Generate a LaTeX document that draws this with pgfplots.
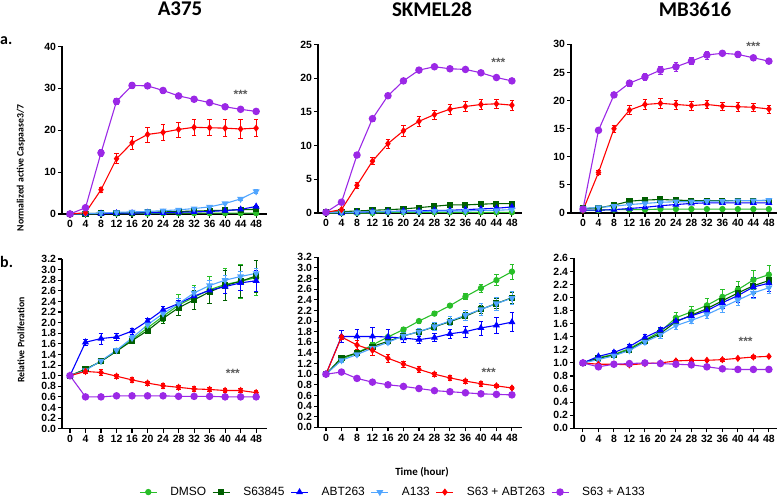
\documentclass[border=0pt]{standalone}
\usepackage{fontspec}
\setmainfont{Liberation Sans}
\newfontfamily\carlito{Carlito}
\usepackage{pgfplots}
\usepackage{pgfplotstable}
\pgfplotsset{compat=1.18}

\definecolor{dmsoC}{RGB}{40,190,40}
\definecolor{s63C}{RGB}{0,95,0}
\definecolor{abtC}{RGB}{0,0,255}
\definecolor{a133C}{RGB}{80,165,255}
\definecolor{sabtC}{RGB}{255,0,0}
\definecolor{sa133C}{RGB}{155,40,230}
\definecolor{starC}{RGB}{90,90,90}

% columns: t dmso dmsoe s63 s63e abt abte a133 a133e sabt sabte sa133 sa133e
\pgfplotstableread{
t dmso dmsoe s63 s63e abt abte a133 a133e sabt sabte sa133 sa133e
0 0.0 0.05 0.0 0.05 0.0 0.05 0.0 0.05 0.0 0.1 0.0 0.2
4 0.0 0.05 0.1 0.05 0.1 0.05 0.1 0.05 0.3 0.1 1.5 0.3
8 0.1 0.05 0.2 0.05 0.1 0.05 0.2 0.1 5.8 0.6 14.6 0.8
12 0.1 0.05 0.2 0.05 0.2 0.1 0.4 0.1 13.2 1.2 26.9 0.8
16 0.1 0.05 0.3 0.05 0.2 0.1 0.5 0.1 17.0 1.6 30.7 0.7
20 0.1 0.05 0.4 0.1 0.3 0.1 0.6 0.1 19.0 1.8 30.6 0.5
24 0.2 0.05 0.5 0.1 0.3 0.1 0.8 0.2 19.5 1.9 29.5 0.6
28 0.2 0.05 0.6 0.1 0.4 0.1 1.0 0.2 20.2 1.8 28.2 0.5
32 0.2 0.05 0.7 0.1 0.5 0.1 1.3 0.2 20.7 2.0 27.4 0.5
36 0.2 0.05 0.8 0.1 0.6 0.1 1.7 0.2 20.6 1.9 26.6 0.4
40 0.2 0.05 0.9 0.1 0.8 0.1 2.5 0.3 20.5 2.0 25.6 0.4
44 0.2 0.05 1.0 0.1 1.1 0.2 3.6 0.3 20.3 2.2 25.0 0.4
48 0.2 0.05 1.1 0.1 1.8 0.3 5.4 0.4 20.5 2.0 24.5 0.4
}\tA
\pgfplotstableread{
t dmso dmsoe s63 s63e abt abte a133 a133e sabt sabte sa133 sa133e
0 0.0 0.05 0.1 0.05 0.1 0.05 0.1 0.05 0.1 0.1 0.1 0.2
4 0.0 0.05 0.2 0.05 0.0 0.05 0.1 0.05 0.5 0.1 1.6 0.2
8 0.0 0.05 0.3 0.05 0.1 0.05 0.1 0.05 4.1 0.4 8.6 0.4
12 0.0 0.05 0.4 0.05 0.2 0.05 0.2 0.05 7.7 0.5 14.0 0.4
16 0.1 0.05 0.5 0.05 0.2 0.05 0.2 0.05 10.3 0.7 17.4 0.4
20 0.1 0.05 0.6 0.1 0.3 0.05 0.2 0.05 12.2 0.8 19.6 0.4
24 0.1 0.05 0.8 0.1 0.3 0.05 0.2 0.05 13.6 0.8 21.2 0.4
28 0.1 0.05 1.0 0.1 0.4 0.05 0.3 0.05 14.6 0.7 21.7 0.3
32 0.1 0.05 1.2 0.1 0.4 0.05 0.3 0.05 15.4 0.7 21.4 0.4
36 0.1 0.05 1.2 0.1 0.5 0.05 0.3 0.05 15.8 0.7 21.3 0.3
40 0.1 0.05 1.3 0.1 0.6 0.1 0.4 0.05 16.1 0.7 20.8 0.3
44 0.1 0.05 1.4 0.1 0.7 0.1 0.4 0.05 16.2 0.7 20.1 0.3
48 0.1 0.05 1.4 0.1 0.9 0.1 0.5 0.1 16.0 0.7 19.6 0.3
}\tB
\pgfplotstableread{
t dmso dmsoe s63 s63e abt abte a133 a133e sabt sabte sa133 sa133e
0 0.5 0.1 0.8 0.1 0.5 0.1 0.8 0.1 0.5 0.2 0.7 0.2
4 0.5 0.1 0.9 0.1 0.5 0.1 1.0 0.1 7.2 0.4 14.7 0.3
8 0.6 0.1 1.4 0.1 0.6 0.1 1.2 0.1 15.0 0.6 21.0 0.4
12 0.6 0.1 2.1 0.2 0.8 0.1 1.5 0.1 18.3 0.8 23.1 0.5
16 0.6 0.1 2.3 0.2 1.0 0.1 1.7 0.1 19.3 0.9 24.2 0.7
20 0.7 0.1 2.4 0.2 1.3 0.1 1.9 0.1 19.5 0.9 25.4 0.7
24 0.7 0.1 2.3 0.2 1.5 0.1 2.0 0.1 19.3 0.8 26.0 0.8
28 0.7 0.1 2.2 0.2 1.7 0.1 2.0 0.1 19.1 0.8 27.0 0.6
32 0.7 0.1 2.2 0.2 1.8 0.1 2.1 0.1 19.3 0.7 28.1 0.7
36 0.7 0.1 2.2 0.2 1.8 0.1 2.1 0.1 19.0 0.7 28.4 0.4
40 0.7 0.1 2.2 0.2 1.8 0.1 2.2 0.1 18.9 0.8 28.2 0.5
44 0.7 0.1 2.2 0.2 1.8 0.1 2.2 0.1 18.8 0.7 27.6 0.5
48 0.7 0.1 2.2 0.2 1.8 0.1 2.3 0.1 18.5 0.7 27.0 0.4
}\tC
\pgfplotstableread{
t dmso dmsoe s63 s63e abt abte a133 a133e sabt sabte sa133 sa133e
0 1.00 0.02 1.00 0.02 1.00 0.02 1.00 0.02 1.00 0.02 1.00 0.02
4 1.12 0.03 1.12 0.03 1.63 0.06 1.10 0.03 1.08 0.04 0.60 0.02
8 1.27 0.03 1.27 0.03 1.70 0.10 1.28 0.03 1.06 0.05 0.60 0.02
12 1.47 0.04 1.46 0.04 1.73 0.07 1.48 0.04 0.99 0.04 0.62 0.02
16 1.68 0.05 1.66 0.05 1.84 0.06 1.71 0.05 0.92 0.05 0.62 0.02
20 1.90 0.06 1.85 0.06 2.03 0.06 1.96 0.06 0.86 0.04 0.62 0.02
24 2.12 0.10 2.08 0.10 2.24 0.06 2.17 0.08 0.81 0.05 0.62 0.02
28 2.33 0.20 2.28 0.14 2.36 0.06 2.36 0.10 0.78 0.04 0.61 0.02
32 2.48 0.22 2.43 0.18 2.50 0.07 2.56 0.10 0.75 0.04 0.61 0.02
36 2.62 0.25 2.58 0.22 2.61 0.08 2.70 0.10 0.74 0.04 0.61 0.02
40 2.72 0.30 2.70 0.28 2.68 0.12 2.80 0.10 0.72 0.04 0.60 0.02
44 2.78 0.32 2.78 0.30 2.75 0.15 2.87 0.10 0.72 0.04 0.60 0.02
48 2.85 0.33 2.88 0.30 2.79 0.20 2.93 0.10 0.68 0.04 0.60 0.02
}\tD
\pgfplotstableread{
t dmso dmsoe s63 s63e abt abte a133 a133e sabt sabte sa133 sa133e
0 1.00 0.02 1.00 0.02 1.00 0.02 1.00 0.02 1.00 0.02 1.00 0.02
4 1.28 0.03 1.31 0.03 1.71 0.12 1.26 0.03 1.70 0.04 1.04 0.02
8 1.40 0.03 1.40 0.04 1.71 0.14 1.37 0.04 1.55 0.08 0.92 0.02
12 1.55 0.04 1.52 0.04 1.71 0.17 1.49 0.04 1.45 0.10 0.85 0.02
16 1.70 0.04 1.62 0.04 1.70 0.14 1.60 0.04 1.30 0.07 0.80 0.02
20 1.84 0.04 1.72 0.05 1.68 0.08 1.72 0.06 1.19 0.06 0.77 0.02
24 2.00 0.04 1.80 0.05 1.65 0.07 1.80 0.06 1.09 0.05 0.73 0.02
28 2.14 0.04 1.89 0.06 1.69 0.08 1.90 0.08 1.00 0.04 0.69 0.02
32 2.29 0.04 1.99 0.06 1.76 0.08 2.00 0.08 0.93 0.04 0.67 0.02
36 2.46 0.06 2.09 0.07 1.80 0.10 2.11 0.10 0.87 0.04 0.65 0.02
40 2.62 0.08 2.22 0.08 1.87 0.13 2.22 0.12 0.82 0.04 0.63 0.02
44 2.77 0.10 2.33 0.09 1.92 0.15 2.33 0.12 0.78 0.03 0.62 0.02
48 2.93 0.14 2.44 0.10 1.98 0.18 2.43 0.12 0.74 0.03 0.61 0.02
}\tE
\pgfplotstableread{
t dmso dmsoe s63 s63e abt abte a133 a133e sabt sabte sa133 sa133e
0 1.00 0.02 1.00 0.02 1.00 0.02 1.00 0.02 1.00 0.02 1.00 0.02
4 1.08 0.02 1.07 0.02 1.10 0.02 1.05 0.02 0.98 0.02 0.94 0.02
8 1.13 0.03 1.12 0.03 1.16 0.03 1.11 0.03 0.98 0.02 0.98 0.02
12 1.22 0.03 1.20 0.03 1.25 0.03 1.19 0.03 0.97 0.02 0.99 0.02
16 1.35 0.04 1.34 0.04 1.39 0.04 1.32 0.04 0.99 0.02 1.00 0.02
20 1.48 0.05 1.45 0.05 1.50 0.04 1.43 0.05 1.00 0.02 0.99 0.02
24 1.69 0.08 1.63 0.06 1.64 0.05 1.57 0.05 1.03 0.02 0.98 0.02
28 1.78 0.09 1.73 0.06 1.72 0.06 1.65 0.05 1.04 0.02 0.97 0.02
32 1.88 0.10 1.83 0.08 1.80 0.07 1.74 0.06 1.04 0.02 0.94 0.02
36 2.01 0.12 1.95 0.09 1.92 0.08 1.85 0.07 1.05 0.02 0.91 0.02
40 2.12 0.13 2.07 0.10 2.03 0.10 1.96 0.08 1.07 0.02 0.90 0.02
44 2.27 0.14 2.18 0.12 2.16 0.15 2.07 0.09 1.09 0.02 0.90 0.02
48 2.35 0.14 2.26 0.12 2.22 0.12 2.15 0.09 1.10 0.02 0.90 0.02
}\tF

\pgfplotsset{
  base/.style={
    scale only axis,
    axis lines=left,
    axis line style={-, line width=1.3pt},
    tick style={line width=1.1pt, black},
    tick align=outside,
    major tick length=4bp,
    xtick={0,4,...,48},
    tick label style={font=\bfseries\fontsize{10.5}{11}\selectfont},
    /pgf/number format/assume math mode=true,
    xticklabel style={yshift=1bp},
    yticklabel style={xshift=1.5bp},
    clip=false,
    enlargelimits=false,
    ymin=0,
    every axis plot/.append style={line width=1.1pt},
  },
  prolif/.style={
    yticklabel style={/pgf/number format/.cd, fixed, fixed zerofill, precision=1},
  },
  ebar/.style={
    error bars/.cd, y dir=both, y explicit,
    error bar style={line width=0.7pt},
    error mark options={rotate=90, mark size=2.3pt, line width=0.7pt},
  },
  sD/.style={color=dmsoC, mark=*, mark size=2.6pt, mark options={solid}, ebar},
  sS/.style={color=s63C, mark=square*, mark size=2.5pt, mark options={solid}, ebar},
  sA/.style={color=abtC, mark=triangle*, mark size=3pt, mark options={solid}, ebar},
  sB/.style={color=a133C, mark=triangle*, mark size=3pt, mark options={solid, rotate=180}, ebar},
  sR/.style={color=sabtC, mark=diamond*, mark size=2.8pt, mark options={solid}, ebar},
  sP/.style={color=sa133C, mark=*, mark size=3.2pt, mark options={solid}, ebar},
}

\newcommand\plotall[1]{%
  \addplot[sD] table[x=t, y=dmso, y error=dmsoe] {#1};
  \addplot[sS] table[x=t, y=s63, y error=s63e] {#1};
  \addplot[sA] table[x=t, y=abt, y error=abte] {#1};
  \addplot[sB] table[x=t, y=a133, y error=a133e] {#1};
  \addplot[sR] table[x=t, y=sabt, y error=sabte] {#1};
  \addplot[sP] table[x=t, y=sa133, y error=sa133e] {#1};
}
\newcommand\stars[2]{\node[text=starC, font=\bfseries\fontsize{12}{12}\selectfont] at (axis cs:#1,#2) {***};}

\begin{document}
\begin{tikzpicture}
\path[use as bounding box] (0,0) rectangle (778bp,498bp);

% titles
\node[font=\carlito\bfseries\fontsize{21}{21}\selectfont] at (180bp,489bp) {A375};
\node[font=\carlito\bfseries\fontsize{21}{21}\selectfont] at (432bp,489bp) {SKMEL28};
\node[font=\carlito\bfseries\fontsize{21}{21}\selectfont] at (695bp,489bp) {MB3616};
\node[anchor=base west, inner sep=0pt, font=\carlito\bfseries\fontsize{16}{16}\selectfont] at (0bp,453bp) {a.};
\node[anchor=base west, inner sep=0pt, font=\carlito\bfseries\fontsize{16}{16}\selectfont] at (0bp,230bp) {b.};
\node[rotate=90, font=\carlito\bfseries\fontsize{9.8}{10}\selectfont] at (21bp,330bp) {Normalized active Caspaase3/7};
\node[rotate=90, font=\carlito\bfseries\fontsize{9.8}{10}\selectfont] at (21bp,158bp) {Relative Proliferation};
\node[font=\carlito\bfseries\fontsize{11}{11}\selectfont] at (422bp,26bp) {Time (hour)};

% Panel 1
\begin{axis}[base, at={(62bp,284bp)}, anchor=south west, width=205bp, height=167.5bp,
  xmin=-2.06, xmax=50.8, ymax=40, ytick={0,10,20,30,40}]
  \plotall{\tA}
  \stars{44}{28.6}
\end{axis}
% Panel 2
\begin{axis}[base, at={(318bp,285bp)}, anchor=south west, width=204bp, height=168.5bp,
  xmin=-2.06, xmax=50.6, ymax=25, ytick={0,5,10,15,20,25}]
  \plotall{\tB}
  \stars{44.5}{22.3}
\end{axis}
% Panel 3
\begin{axis}[base, at={(571bp,285bp)}, anchor=south west, width=206bp, height=168.7bp,
  xmin=-3.1, xmax=50.1, ymax=30, ytick={0,5,10,15,20,25,30}]
  \plotall{\tC}
  \stars{44}{29.6}
\end{axis}
% Panel 4
\begin{axis}[base, prolif, at={(62bp,69.3bp)}, anchor=south west, width=205bp, height=169.7bp,
  xmin=-2.06, xmax=50.8, ymax=3.2,
  ytick={0,0.2,0.4,0.6,0.8,1.0,1.2,1.4,1.6,1.8,2.0,2.2,2.4,2.6,2.8,3.0,3.2}]
  \plotall{\tD}
  \stars{42}{1.05}
\end{axis}
% Panel 5
\begin{axis}[base, prolif, at={(318bp,70.7bp)}, anchor=south west, width=204bp, height=170bp,
  xmin=-2.06, xmax=50.6, ymax=3.2,
  ytick={0,0.2,0.4,0.6,0.8,1.0,1.2,1.4,1.6,1.8,2.0,2.2,2.4,2.6,2.8,3.0,3.2},
  legend columns=6,
  legend style={at={(0.368,-0.381)}, anchor=center, draw=none, fill=none,
    font=\fontsize{12}{12}\selectfont,
    /tikz/every even column/.append style={column sep=4bp},
    /tikz/every odd column/.append style={column sep=11bp}},
  ]
  \plotall{\tE}
  \stars{42}{1.035}
  \legend{DMSO,S63845,ABT263,A133,S63 + ABT263,S63 + A133}
\end{axis}
% Panel 6
\begin{axis}[base, prolif, at={(574bp,69.7bp)}, anchor=south west, width=203bp, height=170bp,
  xmin=-2.3, xmax=50.1, ymax=2.6,
  ytick={0,0.2,0.4,0.6,0.8,1.0,1.2,1.4,1.6,1.8,2.0,2.2,2.4,2.6}]
  \plotall{\tF}
  \stars{42}{1.325}
\end{axis}
\end{tikzpicture}
\end{document}
